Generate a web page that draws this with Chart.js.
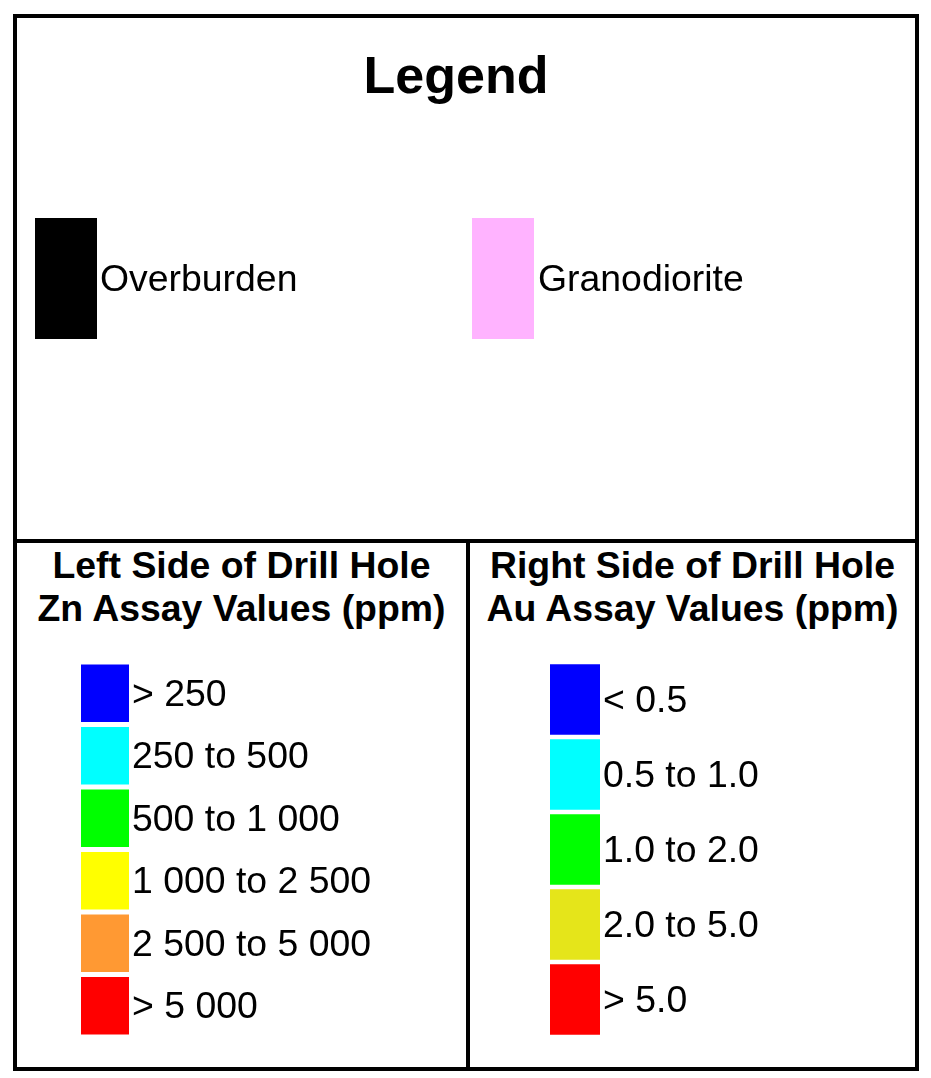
<!DOCTYPE html>
<html>
<head>
<meta charset="utf-8">
<script src="https://cdn.jsdelivr.net/npm/chart.js@4"></script>
<style>
  html, body { margin:0; padding:0; background:#fff; width:931px; height:1078px; overflow:hidden;
    font-family:"Liberation Sans", Arial, Helvetica, sans-serif; }
  .frame { position:absolute; left:13px; top:14px; width:906px; height:1057px; box-sizing:border-box; border:4px solid #000; }
  .rule { position:absolute; background:#000; }
  .title { position:absolute; left:356px; top:49px; width:200px; text-align:center; font-weight:bold; font-size:52px; line-height:52px; white-space:nowrap; color:#000; }
  .head { position:absolute; top:544px; text-align:center; font-weight:bold; font-size:37.4px; line-height:43px; white-space:nowrap; color:#000; }
  canvas { position:absolute; }
</style>
</head>
<body>
<div class="frame"></div>
<div class="rule" style="left:13px;top:539px;width:906px;height:4px"></div>
<div class="rule" style="left:466px;top:539px;width:4px;height:532px"></div>
<div class="title">Legend</div>
<div class="head" style="left:17px;width:449px">Left Side of Drill Hole<br>Zn Assay Values (ppm)</div>
<div class="head" style="left:470px;width:445px">Right Side of Drill Hole<br>Au Assay Values (ppm)</div>

<canvas id="ov" width="312" height="121" style="left:35px;top:218px"></canvas>
<canvas id="gr" width="362" height="121" style="left:472px;top:218px"></canvas>
<canvas id="zn" width="338" height="375" style="left:81px;top:662px"></canvas>
<canvas id="au" width="350" height="375" style="left:550px;top:662px"></canvas>

<script>
// ---- data ----
const rockLabels1 = ['Overburden'];
const rockValues1 = [1];
const rockColors1 = ['#000000'];

const rockLabels2 = ['Granodiorite'];
const rockValues2 = [1];
const rockColors2 = ['#FFB3FF'];

const znLabels = ['> 250', '250 to 500', '500 to 1 000', '1 000 to 2 500', '2 500 to 5 000', '> 5 000'];
const znValues = [1, 1, 1, 1, 1, 1];
const znColors = ['#0000FF', '#00FFFF', '#00FF00', '#FFFF00', '#FF9933', '#FF0000'];

const auLabels = ['< 0.5', '0.5 to 1.0', '1.0 to 2.0', '2.0 to 5.0', '> 5.0'];
const auValues = [1, 1, 1, 1, 1];
const auColors = ['#0000FF', '#00FFFF', '#00FF00', '#E5E51A', '#FF0000'];

function swatchChart(id, labels, values, colors, axisWidth, catPct, pad) {
  return new Chart(document.getElementById(id), {
    type: 'bar',
    data: {
      labels: labels,
      datasets: [{ data: values, backgroundColor: colors, borderWidth: 0,
                   barPercentage: 1, categoryPercentage: catPct }]
    },
    options: {
      indexAxis: 'y',
      responsive: false,
      animation: false,
      events: [],
      layout: { padding: 0 },
      plugins: { legend: { display: false }, tooltip: { enabled: false } },
      scales: {
        x: { display: false, min: 0, max: 1 },
        y: {
          position: 'right',
          grid: { display: false, drawTicks: false },
          border: { display: false },
          ticks: { color: '#000', padding: pad, autoSkip: false, labelOffset: 2,
                   font: { family: 'Liberation Sans', size: 37.4 } },
          afterFit(scale) {
            scale.width = axisWidth;
            scale.paddingTop = 0;
            scale.paddingBottom = 0;
          }
        }
      }
    }
  });
}

swatchChart('ov', rockLabels1, rockValues1, rockColors1, 250, 1, 3);
swatchChart('gr', rockLabels2, rockValues2, rockColors2, 300, 1, 4);
swatchChart('zn', znLabels, znValues, znColors, 290, 0.922, 3);
swatchChart('au', auLabels, auValues, auColors, 300, 0.943, 3);
</script>
</body>
</html>
